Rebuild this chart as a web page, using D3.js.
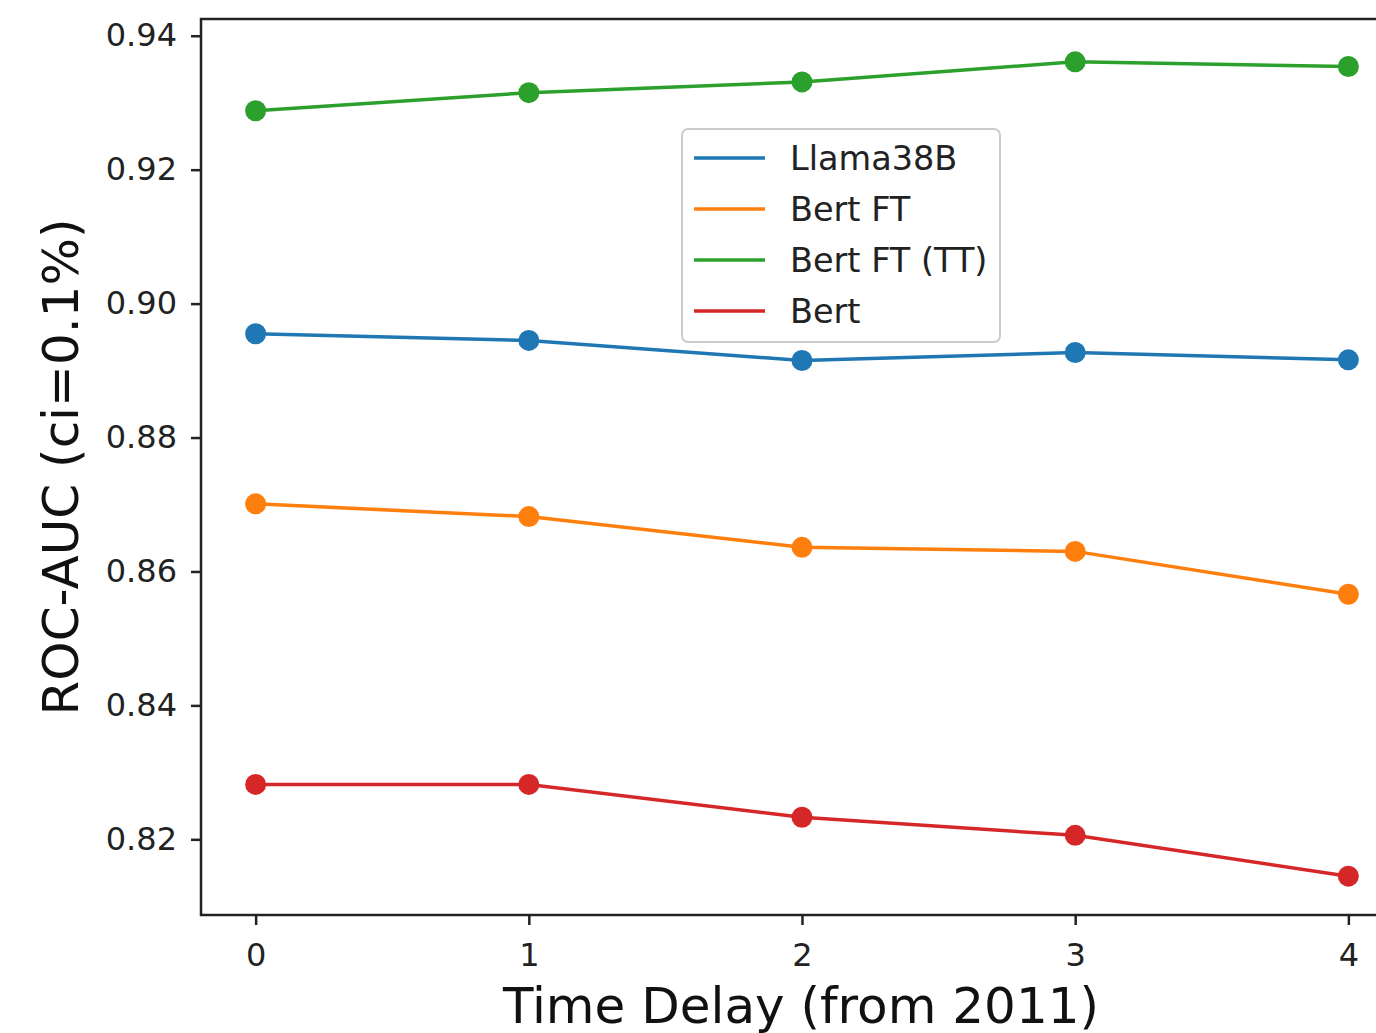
<!DOCTYPE html>
<html><head><meta charset="utf-8">
<script src="https://cdn.jsdelivr.net/npm/d3@7/dist/d3.min.js"></script>
<style>html,body{margin:0;padding:0;background:#fff;overflow:hidden}</style>
</head><body>
<svg id="chart" width="1376" height="1033"></svg>
<script>
const xValues = [0, 1, 2, 3, 4];
const seriesNames = ["Llama38B", "Bert FT", "Bert FT (TT)", "Bert"];
const llama = [0.8955, 0.8945, 0.8915, 0.8927, 0.8916];
const bertFT = [0.8701, 0.8682, 0.8636, 0.8630, 0.8566];
const bertFTTT = [0.9288, 0.9315, 0.9331, 0.9361, 0.9354];
const bert = [0.8282, 0.8282, 0.8233, 0.8206, 0.8145];
const colors = ["#1f77b4", "#ff7f0e", "#2ca02c", "#d62728"];
const yTicks = [0.82, 0.84, 0.86, 0.88, 0.90, 0.92, 0.94];
const xTicks = [0, 1, 2, 3, 4];

const seriesValues = [llama, bertFT, bertFTTT, bert];
const svg = d3.select("#chart");
const pLeft = 201, pTop = 19, pRight = 1403, pBottom = 915;
const x = d3.scaleLinear().domain([-0.2, 4.2]).range([pLeft, pRight]);
const y = d3.scaleLinear().domain([0.8087, 0.9425]).range([pBottom, pTop]);
const font = "DejaVu Sans, sans-serif";

// series
const line = d3.line().x((d, i) => x(xValues[i])).y(d => y(d));
seriesValues.forEach((vals, si) => {
  svg.append("path").datum(vals).attr("d", line)
    .attr("fill", "none").attr("stroke", colors[si]).attr("stroke-width", 3.5);
  svg.selectAll(null).data(vals).enter().append("circle")
    .attr("cx", (d, i) => x(xValues[i])).attr("cy", d => y(d)).attr("r", 10.5)
    .attr("fill", colors[si]);
});

// frame
svg.append("rect").attr("x", pLeft).attr("y", pTop).attr("width", pRight - pLeft).attr("height", pBottom - pTop)
  .attr("fill", "none").attr("stroke", "#222").attr("stroke-width", 2.5);

// axes
const yAxis = d3.axisLeft(y).tickValues(yTicks).tickFormat(d3.format(".2f")).tickSize(10).tickPadding(14);
const gy = svg.append("g").attr("transform", `translate(${pLeft},0)`).call(yAxis);
gy.select(".domain").remove();
gy.selectAll(".tick line").attr("stroke", "#222").attr("stroke-width", 2.5);
gy.selectAll(".tick text").attr("font-family", font).attr("font-size", 32).attr("fill", "#222");

const xAxis = d3.axisBottom(x).tickValues(xTicks).tickFormat(d3.format("d")).tickSize(10).tickPadding(18);
const gx = svg.append("g").attr("transform", `translate(0,${pBottom})`).call(xAxis);
gx.select(".domain").remove();
gx.selectAll(".tick line").attr("stroke", "#222").attr("stroke-width", 2.5);
gx.selectAll(".tick text").attr("font-family", font).attr("font-size", 32).attr("fill", "#222");

// axis labels
svg.append("text").attr("x", 801).attr("y", 1023).attr("text-anchor", "middle")
  .attr("font-family", font).attr("font-size", 50).attr("fill", "#111").text("Time Delay (from 2011)");
svg.append("text").attr("transform", `translate(78,467) rotate(-90)`).attr("text-anchor", "middle")
  .attr("font-family", font).attr("font-size", 50).attr("fill", "#111").text("ROC-AUC (ci=0.1%)");

// legend
const lg = svg.append("g");
lg.append("rect").attr("x", 682).attr("y", 129).attr("width", 318).attr("height", 213).attr("rx", 6)
  .attr("fill", "#fff").attr("fill-opacity", 0.8).attr("stroke", "#ccc").attr("stroke-width", 2);
seriesNames.forEach((name, i) => {
  const yy = 158 + i * 51;
  lg.append("line").attr("x1", 694).attr("x2", 765).attr("y1", yy).attr("y2", yy)
    .attr("stroke", colors[i]).attr("stroke-width", 3.5);
  lg.append("text").attr("x", 790).attr("y", yy + 12).attr("font-family", font).attr("font-size", 33.5)
    .attr("fill", "#222").text(name);
});
</script>
</body></html>
